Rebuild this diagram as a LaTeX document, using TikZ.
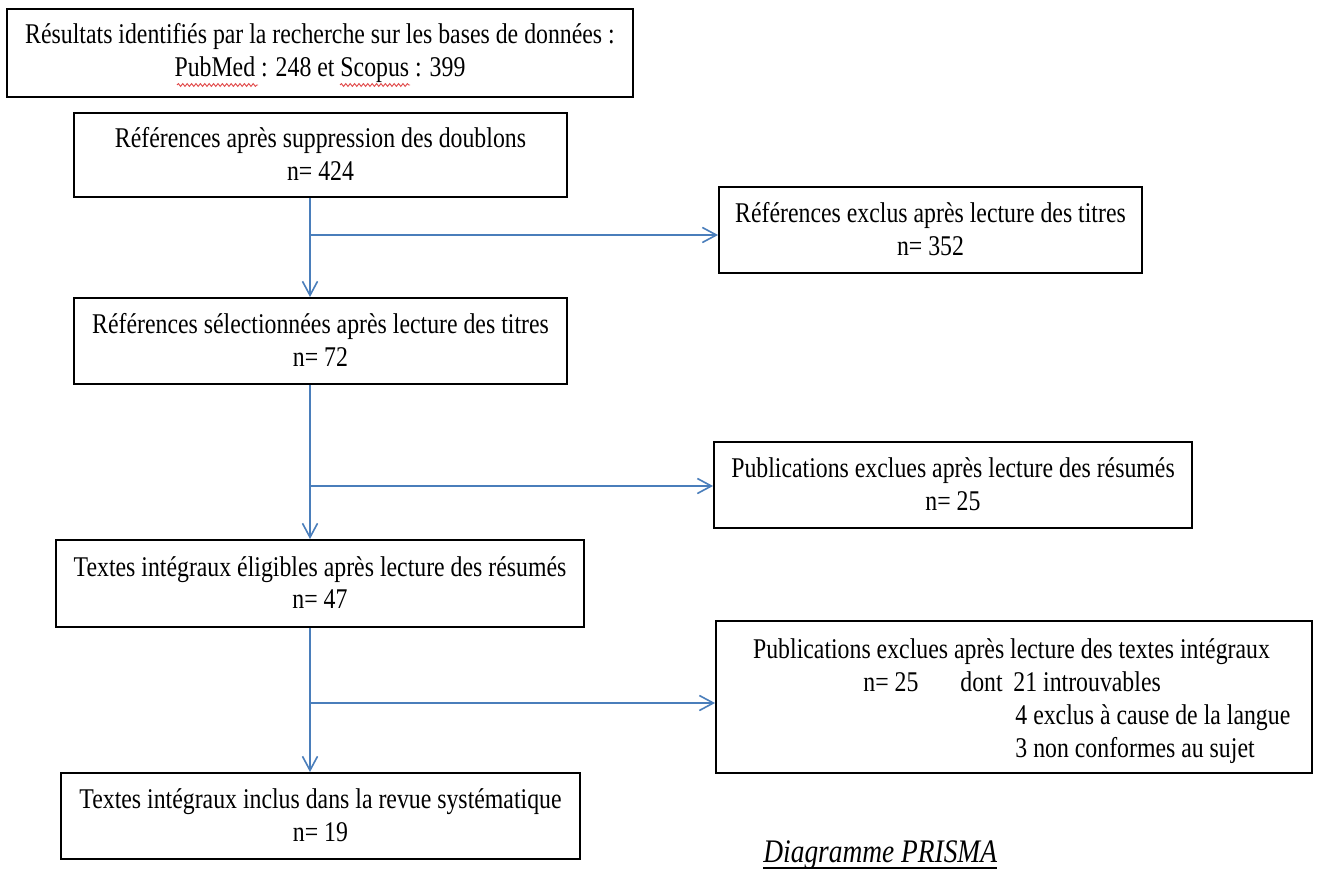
\documentclass[tikz,border=0pt]{standalone}
\usepackage{graphicx}
\usepackage{fontspec}
\setmainfont{Liberation Serif}
\usetikzlibrary{arrows.meta,decorations.pathmorphing}
\definecolor{linkblue}{RGB}{74,126,187}
\definecolor{spellred}{RGB}{225,70,70}
\newcommand{\stx}[1]{\scalebox{1}[1.2]{\begin{tabular}{@{}c@{}}#1\end{tabular}}}
\newcommand{\stxd}[1]{\raisebox{-1.2pt}[\height][\depth]{\stx{#1}}}
\newcommand{\sln}[1]{\scalebox{1}[1.2]{#1}}
\begin{document}
\begin{tikzpicture}[x=0.5pt,y=-0.5pt,
  box/.style={draw=black, line width=0.95pt, inner sep=0pt, font=\fontsize{11.9pt}{13.7pt}\selectfont},
  txt/.style={inner sep=0pt, font=\fontsize{11.9pt}{13.7pt}\selectfont},
  conn/.style={draw=linkblue, line width=0.8pt},
  tipped/.style={conn, -{Straight Barb[length=7pt,width=7.5pt,line width=0.8pt]}},
  wavy/.style={draw=spellred, line width=0.45pt, decorate, decoration={snake, amplitude=0.7pt, segment length=2.2pt}}]
\fill[white] (0,0) rectangle (1317,872);
\useasboundingbox (0,0) rectangle (1317,872);

% main column
\node[box, minimum width=313pt, minimum height=44pt] (B1) at (320,53)
  {\stx{Résultats identifiés par la recherche sur les bases de données :\\ PubMed : 248 et Scopus : 399}};
\node[box, minimum width=246.5pt, minimum height=42pt] (B2) at (320.5,155)
  {\stxd{Références après suppression des doublons\\ n= 424}};
\node[box, minimum width=246.5pt, minimum height=43pt] (B3) at (320.5,341)
  {\stxd{Références sélectionnées après lecture des titres\\ n= 72}};
\node[box, minimum width=264pt, minimum height=43.5pt] (B4) at (320,583.5)
  {\stxd{Textes intégraux éligibles après lecture des résumés\\ n= 47}};
\node[box, minimum width=259.5pt, minimum height=43pt] (B5) at (320.5,816)
  {\stxd{Textes intégraux inclus dans la revue systématique\\ n= 19}};

% exclusion column
\node[box, minimum width=211.5pt, minimum height=43pt] (R1) at (930.5,230)
  {\stxd{Références exclus après lecture des titres\\ n= 352}};
\node[box, minimum width=239pt, minimum height=43pt] (R2) at (953,485)
  {\stxd{Publications exclues après lecture des résumés\\ n= 25}};
\node[box, minimum width=298pt, minimum height=76pt] (R3) at (1014,697) {};
\node[txt, anchor=base] (R3a) at (1011.5,658) {\sln{Publications exclues après lecture des textes intégraux}};
\node[txt, anchor=base west] (R3b) at (863,691) {\sln{n= 25}};
\node[txt, anchor=base west] (R3c) at (960,691) {\sln{dont}};
\node[txt, anchor=base west] (R3d) at (1013,691) {\sln{21 introuvables}};
\node[txt, anchor=base west] (R3e) at (1015,724) {\sln{4 exclus à cause de la langue}};
\node[txt, anchor=base west] (R3f) at (1015,757) {\sln{3 non conformes au sujet}};

% spell-check marks
\draw[wavy] (177,85) -- (258,85);
\draw[wavy] (340,85) -- (410,85);

% junctions
\coordinate (j1) at (310,235);
\coordinate (j2) at (310,486);
\coordinate (j3) at (310,703);

\draw[tipped] (B2.south -| j1) -- (B3.north -| j1);
\draw[tipped] (j1) -- (j1 -| R1.west);
\draw[tipped] (B3.south -| j2) -- (B4.north -| j2);
\draw[tipped] (j2) -- (j2 -| R2.west);
\draw[tipped] (B4.south -| j3) -- (B5.north -| j3);
\draw[tipped] (j3) -- (j3 -| R3.west);

% caption
\node[inner sep=0pt, anchor=base west, font=\fontsize{13.7pt}{16pt}\selectfont\itshape] (cap) at (763,862)
  {\scalebox{1}[1.2]{Diagramme PRISMA}};
\draw[line width=0.6pt] ([yshift=-3pt]cap.base west) -- ([yshift=-3pt]cap.base east);
\end{tikzpicture}
\end{document}
